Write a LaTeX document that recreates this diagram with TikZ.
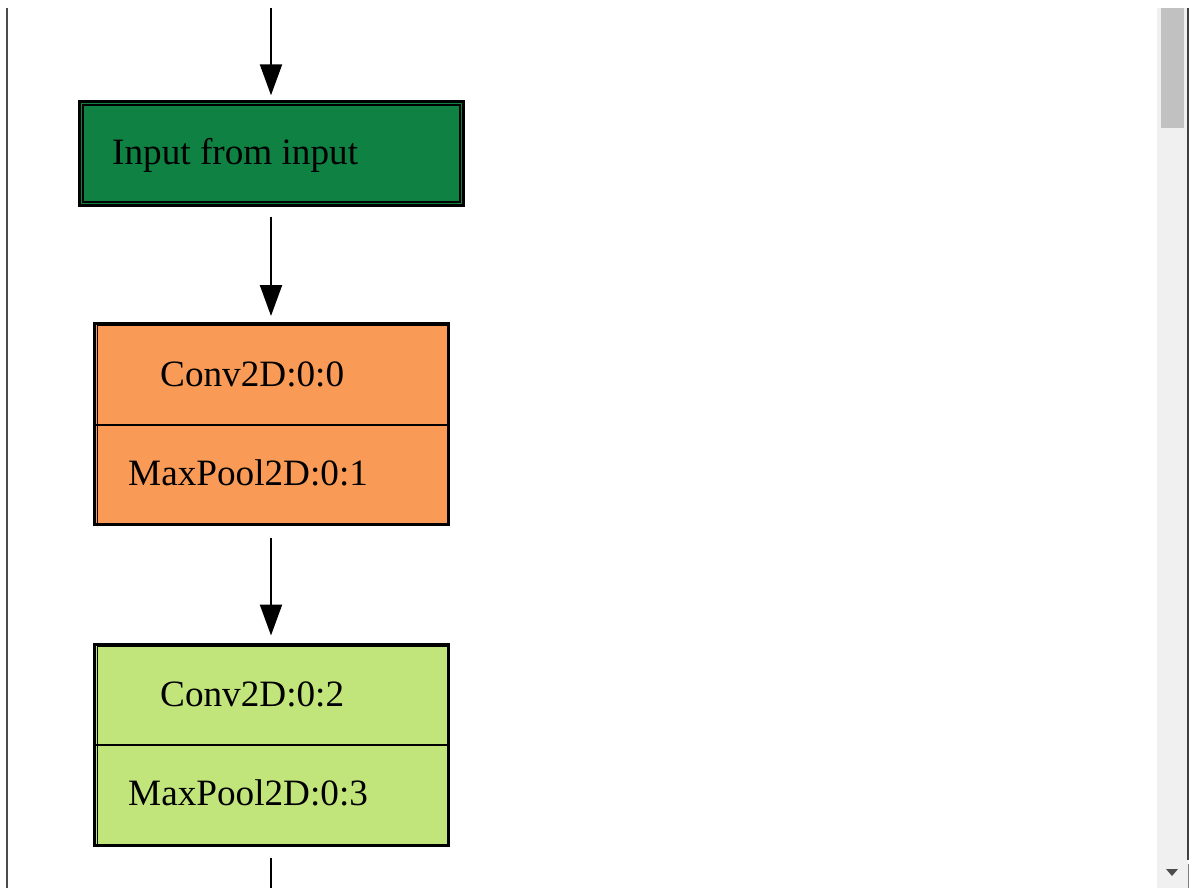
\documentclass[tikz,border=0pt]{standalone}
\usepackage{fontspec}
\setmainfont{Liberation Serif}
\usetikzlibrary{arrows.meta}
\definecolor{inGreen}{HTML}{0F8243}
\definecolor{convOrange}{HTML}{F99B56}
\definecolor{convLime}{HTML}{C2E57B}
\definecolor{trackGray}{HTML}{F0F0F0}
\definecolor{thumbGray}{HTML}{C1C1C1}
\tikzset{
  boxouter/.style={draw=black, line width=3pt, inner sep=0pt},
  boxinner/.style={draw=black, line width=1.5pt},
  divider/.style={draw=black, line width=2.2pt},
  flow/.style={draw=black, line width=2.2pt, -{Triangle[width=22pt,length=31pt]}},
  plainflow/.style={draw=black, line width=2.2pt},
  lbl/.style={anchor=base west, inner sep=0pt, font=\fontsize{37.2}{40}\selectfont, text=black},
}
\begin{document}
\begin{tikzpicture}[x=1pt,y=-1pt]
\useasboundingbox (0,0) rectangle (1192,888);
\fill[white] (0,0) rectangle (1192,888);
% page frame and scrollbar
\draw[line width=1.5pt, draw=black!70] (7,8) -- (7,888);
\fill[trackGray] (1157,8) rectangle (1188,888);
\fill[thumbGray] (1161,8) rectangle (1184,128);
\draw[line width=1.5pt, draw=black!75] (1188,8) -- (1188,860);
\draw[line width=1pt, draw=black!50] (1188,864) -- (1188,888);
\fill[black!70] (1166,869) -- (1178,869) -- (1172,876) -- cycle;

% input node
\node[boxouter, line width=2.4pt, fill=inGreen, minimum width=384pt, minimum height=104pt] (inp) at (271.5,153.5) {};
\draw[boxinner, line width=2.4pt] ([xshift=4.6pt,yshift=-4.6pt]inp.north west) rectangle ([xshift=-4.6pt,yshift=4.6pt]inp.south east);
\node[lbl] (inptxt) at (112,165) {Input from input};

% orange block
\node[boxouter, fill=convOrange, minimum width=354pt, minimum height=201pt] (blkA) at (271.5,424) {};
\draw[boxinner] ([xshift=4.5pt,yshift=-3.5pt]blkA.north west) rectangle ([xshift=-2pt,yshift=2pt]blkA.south east);
\draw[divider] (blkA.west |- 0,425) -- (blkA.east |- 0,425);
\node[lbl] (c00) at (160,386) {Conv2D:0:0};
\node[lbl] (m01) at (128,485) {MaxPool2D:0:1};

% lime block
\node[boxouter, fill=convLime, minimum width=354pt, minimum height=201pt] (blkB) at (271.5,744.5) {};
\draw[boxinner] ([xshift=4.5pt,yshift=-3.5pt]blkB.north west) rectangle ([xshift=-2pt,yshift=2pt]blkB.south east);
\draw[divider] (blkB.west |- 0,745) -- (blkB.east |- 0,745);
\node[lbl] (c02) at (160,706) {Conv2D:0:2};
\node[lbl] (m03) at (128,805) {MaxPool2D:0:3};

% connectors
\coordinate (topin) at (271,8);
\coordinate (botout) at (271,888);
\draw[flow] (topin) -- ([yshift=5pt]inp.north -| topin);
\draw[flow] ([yshift=-10pt]inp.south -| topin) -- ([yshift=6pt]blkA.north -| topin);
\draw[flow] ([yshift=-12pt]blkA.south -| topin) -- ([yshift=7pt]blkB.north -| topin);
\draw[plainflow] ([yshift=-11pt]blkB.south -| topin) -- (botout);
\end{tikzpicture}
\end{document}
